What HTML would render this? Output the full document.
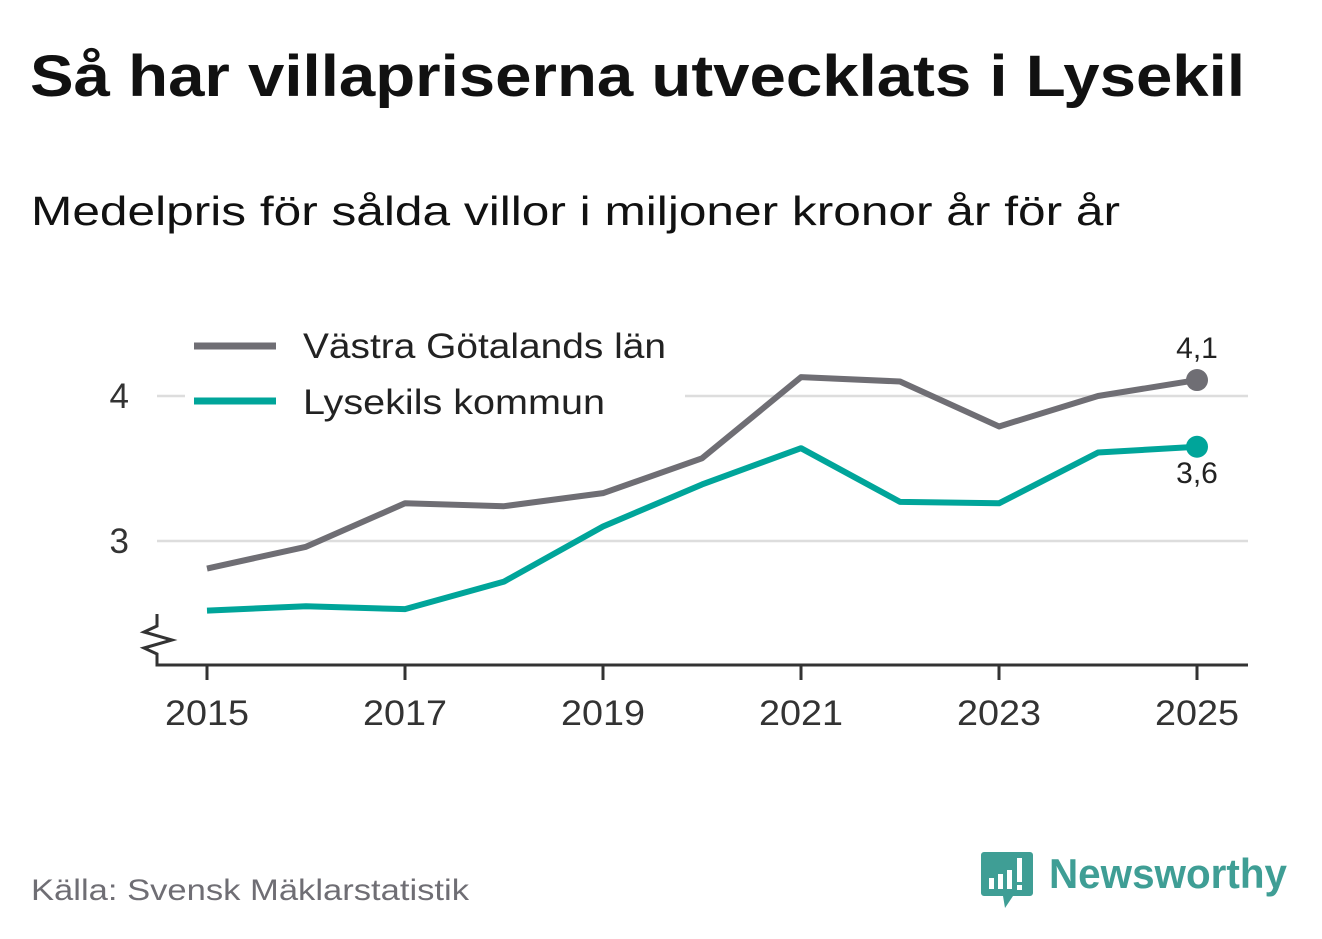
<!DOCTYPE html>
<html><head><meta charset="utf-8"><style>
body{margin:0;background:#fff;}
svg{display:block;font-family:"Liberation Sans","DejaVu Sans",sans-serif;}
</style></head><body>
<svg width="1322" height="939" viewBox="0 0 1322 939">
<text x="30" y="96" font-size="58" font-weight="bold" fill="#111" textLength="1215" lengthAdjust="spacingAndGlyphs">Så har villapriserna utvecklats i Lysekil</text>
<text x="31" y="225" font-size="41" fill="#111" textLength="1089" lengthAdjust="spacingAndGlyphs">Medelpris för sålda villor i miljoner kronor år för år</text>
<g id="grid"></g>
<g id="axes"></g>
<g id="series"></g>
<g>
<rect x="185" y="322" width="500" height="100" fill="#fff"/>
<line x1="194" y1="346" x2="276" y2="346" stroke="#6f6e74" stroke-width="7"/>
<text x="303" y="358" font-size="35" fill="#222" textLength="363" lengthAdjust="spacingAndGlyphs">Västra Götalands län</text>
<line x1="194" y1="401" x2="276" y2="401" stroke="#00a59a" stroke-width="7"/>
<text x="303" y="414" font-size="35" fill="#222" textLength="302" lengthAdjust="spacingAndGlyphs">Lysekils kommun</text>
</g>
<text x="31" y="900" font-size="30" fill="#6f6e74" textLength="438" lengthAdjust="spacingAndGlyphs">Källa: Svensk Mäklarstatistik</text>
<g>
<path d="M984 852 h46 a3 3 0 0 1 3 3 v38 a3 3 0 0 1 -3 3 h-17 l-8 12 l-2 -12 h-19 a3 3 0 0 1 -3 -3 v-38 a3 3 0 0 1 3 -3z" fill="#3f9e95"/>
<rect x="989" y="878" width="5" height="11" fill="#fff"/>
<rect x="998" y="874" width="5" height="15" fill="#fff"/>
<rect x="1007" y="870" width="5" height="19" fill="#fff"/>
<rect x="1017" y="858" width="5" height="24" fill="#fff"/>
<rect x="1017" y="885" width="5" height="5" fill="#fff"/>
<text x="1049" y="888" font-size="42" font-weight="bold" fill="#3f9e95" textLength="238" lengthAdjust="spacingAndGlyphs">Newsworthy</text>
</g>
<script>
const years=[2015,2016,2017,2018,2019,2020,2021,2022,2023,2024,2025];
const vastra=[2.81,2.96,3.26,3.24,3.33,3.57,4.13,4.10,3.79,4.00,4.11];
const lysekil=[2.52,2.55,2.53,2.72,3.10,3.39,3.64,3.27,3.26,3.61,3.65];
const yTicks=[3,4];
const xTicks=[2015,2017,2019,2021,2023,2025];
const NS='http://www.w3.org/2000/svg';
const x=v=>207+(v-2015)*99;
const y=v=>541-(v-3)*145;
function mk(tag,attrs,parent){const e=document.createElementNS(NS,tag);for(const k in attrs)e.setAttribute(k,attrs[k]);parent.appendChild(e);return e;}
const grid=document.getElementById('grid'),axes=document.getElementById('axes'),series=document.getElementById('series');
yTicks.forEach(t=>{
 const l=mk('line',{x1:157,x2:1248,y1:y(t),y2:y(t),stroke:'#ddd','stroke-width':2.5},grid);
 
 
 const tx=mk('text',{x:129,y:y(t)+12,'font-size':35,fill:'#333','text-anchor':'end'},axes);
 tx.textContent=t;
 
 
});
const ax=mk('path',{d:'M157 614 V626 L144 632 L172 640 L144 648 L157 654 V665 H1248',fill:'none',stroke:'#333','stroke-width':3},axes);


xTicks.forEach(t=>{
 const l=mk('line',{x1:x(t),x2:x(t),y1:665,y2:680,stroke:'#333','stroke-width':3},axes);
 
 
 const tx=mk('text',{x:x(t),y:725,'font-size':35,fill:'#333','text-anchor':'middle',textLength:84,lengthAdjust:'spacingAndGlyphs'},axes);
 tx.textContent=t;
 
 
});
function draw(vals,color,name,labelDy){
 const p=mk('polyline',{points:vals.map((v,i)=>x(years[i])+','+y(v)).join(' '),fill:'none',stroke:color,'stroke-width':6,'stroke-linejoin':'round'},series);
 
 
 const n=vals.length-1;
 const c=mk('circle',{cx:x(years[n]),cy:y(vals[n]),r:11,fill:color},series);
 
 
 const t=mk('text',{x:x(years[n]),y:y(vals[n])+labelDy,'font-size':30,fill:'#222','text-anchor':'middle'},series);
 t.textContent=vals[n].toFixed(1).replace('.',',');
 
 
}
draw(vastra,'#6f6e74','vastra-gotaland',-22);
draw(lysekil,'#00a59a','lysekil',36);
</script>
</svg>
</body></html>
